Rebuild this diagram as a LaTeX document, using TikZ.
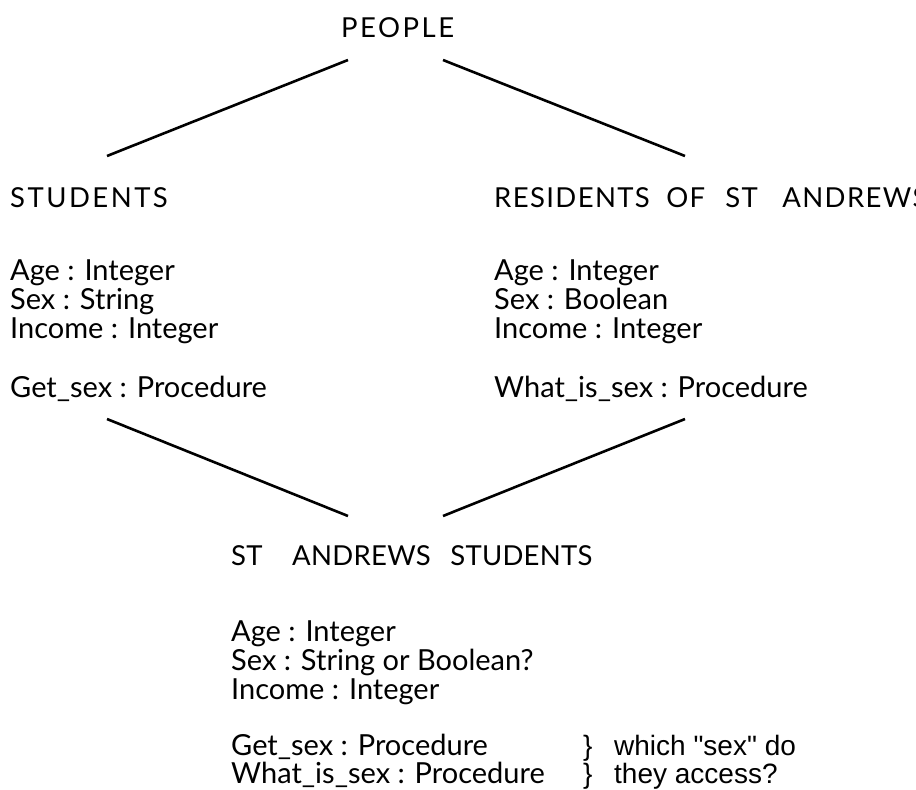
\documentclass[tikz,border=0pt]{standalone}
\usepackage{fontspec}
\setmainfont{Lato}
\newfontfamily\helv{Liberation Sans}
\begin{document}
\begin{tikzpicture}[x=1pt,y=-1pt,
  txt/.style={anchor=base west,inner sep=0pt,font=\fontsize{29}{29}\selectfont},
  hd/.style={anchor=base west,inner sep=0pt,font=\fontsize{27.5}{29}\selectfont\addfontfeature{LetterSpace=#1}},
  hd/.default=9,
  note/.style={anchor=base west,inner sep=0pt,font=\helv\fontsize{28}{29}\selectfont},
  link/.style={line width=2.6pt}]
\useasboundingbox (0,0) rectangle (916,790);
% headings
\node[hd] (people) at (341,37) {PEOPLE};
\node[hd] (students) at (10,207) {STUDENTS};
\node[hd=5] (residents) at (494,207) {\makebox[172pt][l]{RESIDENTS}\makebox[59pt][l]{OF}\makebox[57pt][l]{ST}ANDREWS};
\node[hd=1] (sas) at (231,565) {\makebox[61pt][l]{ST}\makebox[158pt][l]{ANDREWS}STUDENTS};
% students attributes
\node[txt] (s1) at (10,280) {Age : Integer};
\node[txt] (s2) at (10,309) {Sex : String};
\node[txt] (s3) at (10,338) {Income : Integer};
\node[txt] (s4) at (10,397) {Get\_sex : Procedure};
% residents attributes
\node[txt] (r1) at (494,280) {Age : Integer};
\node[txt] (r2) at (494,309) {Sex : Boolean};
\node[txt] (r3) at (494,338) {Income : Integer};
\node[txt] (r4) at (494,397) {What\_is\_sex : Procedure};
% st andrews students attributes
\node[txt] (a1) at (231,641) {Age : Integer};
\node[txt] (a2) at (231,670) {Sex : String or Boolean?};
\node[txt] (a3) at (231,699) {Income : Integer};
\node[txt] (a4) at (231,755) {Get\_sex : Procedure};
\node[txt] (a5) at (231,783) {What\_is\_sex : Procedure};
% braces and note
\node[note] (b1) at (583,755) {\}};
\node[note] (b2) at (583,783) {\}};
\node[note] (n1) at (614,755) {which "sex" do};
\node[note] (n2) at (614,783) {they access?};
% connector end points
\coordinate (pl) at (348,60);
\coordinate (pr) at (443,60);
\coordinate (st) at (107,156);
\coordinate (rt) at (685,156);
\coordinate (sb) at (107,419);
\coordinate (rb) at (685,419);
\coordinate (al) at (348,516);
\coordinate (ar) at (443,516);
\draw[link] (pl) -- (st);
\draw[link] (pr) -- (rt);
\draw[link] (sb) -- (al);
\draw[link] (rb) -- (ar);
\end{tikzpicture}
\end{document}
